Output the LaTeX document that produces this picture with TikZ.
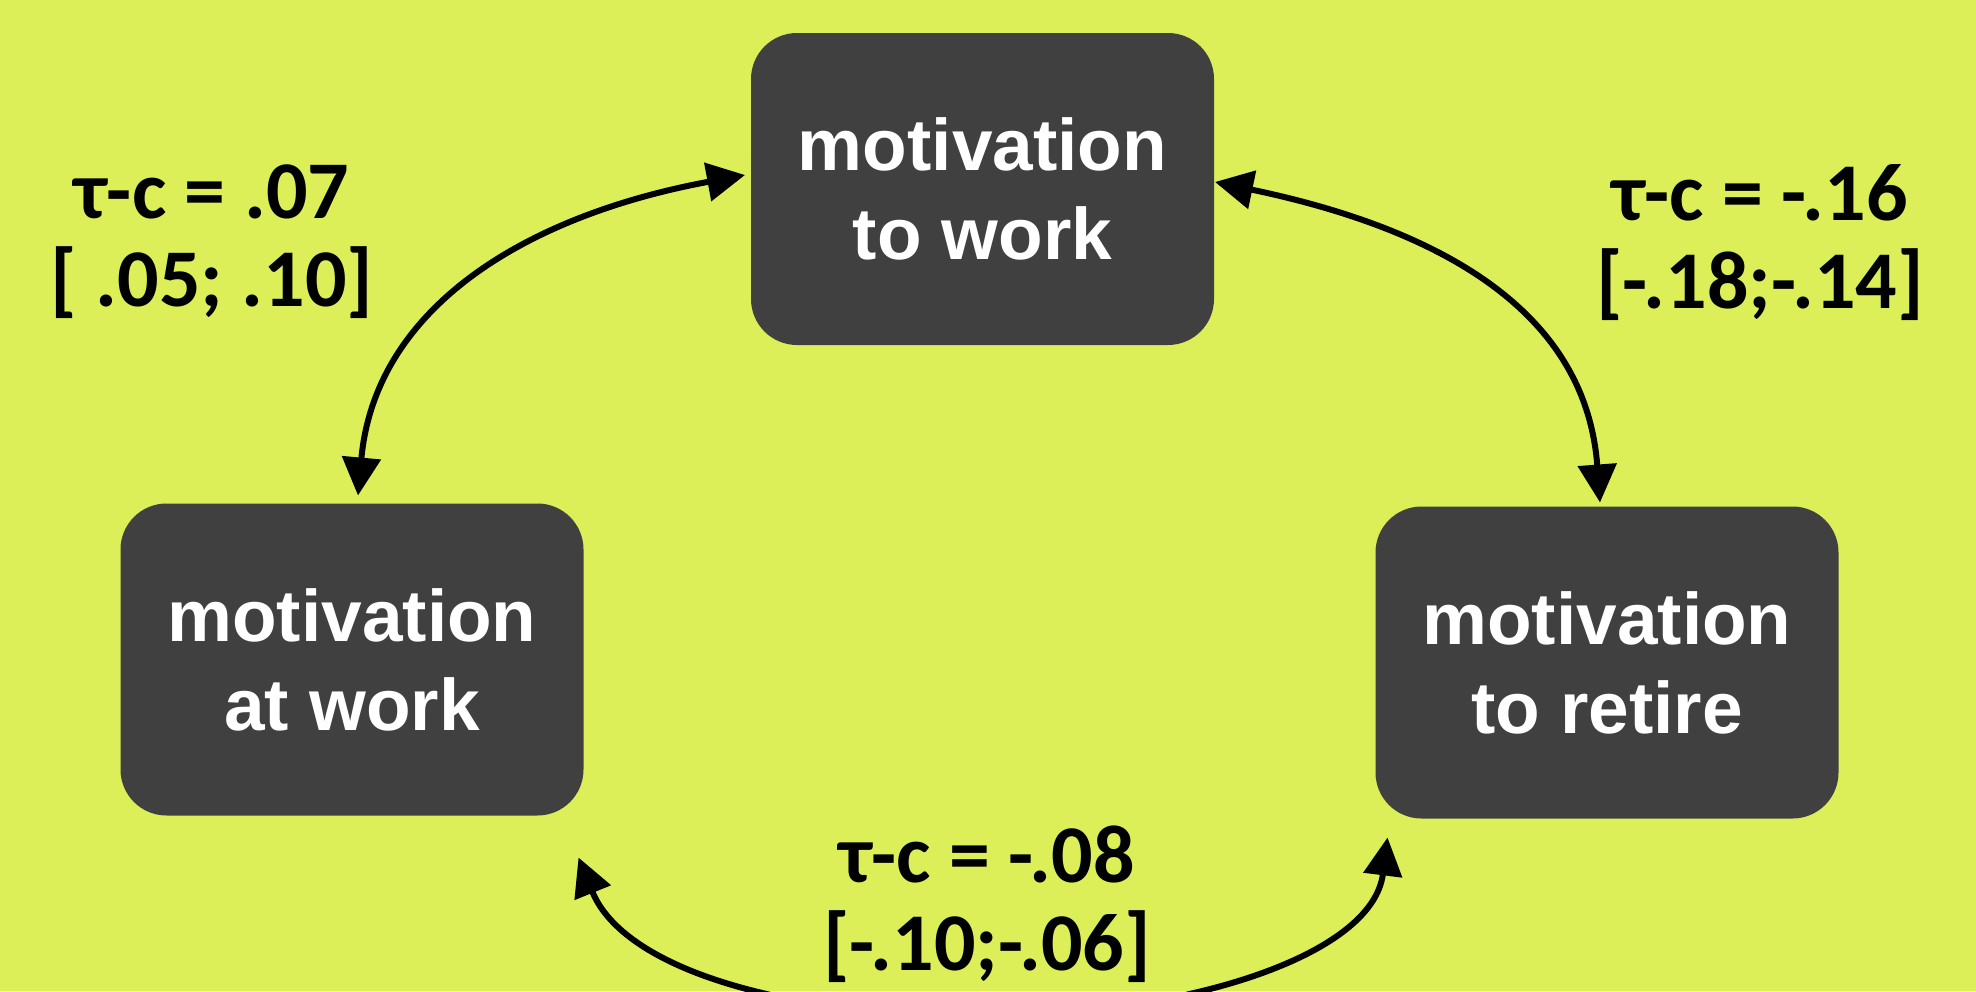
\documentclass[tikz,border=0pt]{standalone}
\usepackage{fontspec}
\setmainfont{Liberation Sans}
\newfontfamily\lblfont{Carlito}
\usetikzlibrary{arrows.meta,calc}
\definecolor{bgc}{HTML}{DCEF58}
\definecolor{boxc}{HTML}{404040}
\tikzset{
  mbox/.style={fill=boxc, rounded corners=46pt, minimum width=463pt, minimum height=312pt,
    inner sep=0pt, outer sep=0pt, text=white, align=center,
    font=\bfseries\fontsize{73}{89}\selectfont},
  lbl/.style={align=center, inner sep=0pt, text=black,
    font=\lblfont\bfseries\fontsize{82}{88}\selectfont},
  dbl/.style={line width=6pt, draw=black,
    {Triangle[length=38pt,width=38pt]}-{Triangle[length=38pt,width=38pt]}}
}
\begin{document}
\begin{tikzpicture}[x=1pt,y=-1pt]
\fill[bgc] (0,0) rectangle (1976,991);
\useasboundingbox (0,0) rectangle (1976,991);
\node[mbox] (top) at (982.5,189) {motivation\\to work};
\node[mbox] (left) at (352,659.5) {motivation\\at work};
\node[mbox] (right) at (1607,662.5) {motivation\\to retire};
\node[lbl] (l1) at (212,242) {τ-c = .07\\{[} .05; .10]};
\node[lbl] (l2) at (1760,243) {τ-c = -.16\\{[}-.18;-.14]};
\node[lbl] (l3) at (987,904) {τ-c = -.08\\{[}-.10;-.06]};
\coordinate (bot) at (983,1016);
\draw[dbl] ($(top.west)+(-6,-14)$) .. controls +(-221,41) and +(17,-187) .. ($(left.north)+(6,-8)$);
\draw[dbl] ($(top.east)+(1,-7)$) .. controls +(230,48) and +(-14,-189) .. ($(right.north)+(-7,-4)$);
\draw[dbl] ($(left.south east)+(-5,42)$) .. controls +(45,111) and +(-200,0) .. (bot)
  .. controls +(200,0) and +(-15,119) .. ($(right.south west)+(12,19)$);
\end{tikzpicture}
\end{document}
